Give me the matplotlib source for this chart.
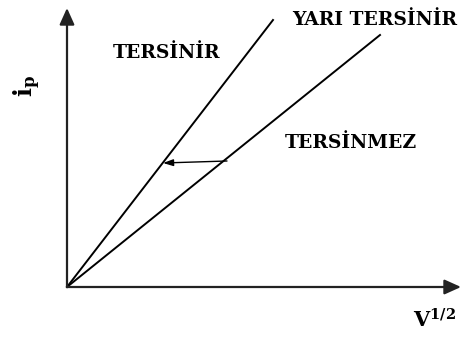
import matplotlib.pyplot as plt

plt.rcParams['mathtext.fontset'] = 'dejavuserif'

# line ends (V^1/2, i_p) measured from the origin
tersinir_v = [0, 206]
tersinir_i = [0, 267]
tersinmez_v = [0, 313]
tersinmez_i = [0, 252]
# horizontal shift between the two lines
shift_v = [160, 96]
shift_i = [126, 124]

fig = plt.figure(figsize=(4.62, 3.38), dpi=100)
ax = fig.add_axes([0, 0, 1, 1])
ax.set_xlim(-67, 395)
ax.set_ylim(-51, 287)
ax.axis('off')

font = dict(family='DejaVu Serif', fontweight='bold', color='black',
            fontsize=13.5, va='baseline')

# axes with filled arrow heads
ax.annotate('', xy=(394, 0), xytext=(0, 0),
            arrowprops=dict(arrowstyle='-|>,head_length=1.0,head_width=0.45',
                            lw=1.6, color='#222222', shrinkA=0, shrinkB=0))
ax.annotate('', xy=(0, 279), xytext=(0, 0),
            arrowprops=dict(arrowstyle='-|>,head_length=1.0,head_width=0.45',
                            lw=1.6, color='#222222', shrinkA=0, shrinkB=0))

ax.plot(tersinir_v, tersinir_i, color='black', lw=1.4)
ax.plot(tersinmez_v, tersinmez_i, color='black', lw=1.4)
ax.annotate('', xy=(shift_v[1], shift_i[1]), xytext=(shift_v[0], shift_i[0]),
            arrowprops=dict(arrowstyle='-|>,head_length=0.6,head_width=0.2',
                            lw=1.0, color='black', shrinkA=0, shrinkB=0))

ax.text(46, 229, 'TERSİNİR', **font)
ax.text(225, 262, 'YARI TERSİNİR', **font)
ax.text(218, 139, 'TERSİNMEZ', **font)
ax.text(-40, 201, '$\\mathbf{i_p}$', fontsize=17, rotation=90,
        ha='center', va='center', color='black')
ax.text(346, -40, '$\\mathbf{V^{1/2}}$', fontsize=15, ha='left',
        va='baseline', color='black')

fig.savefig('out.png', dpi=100)
